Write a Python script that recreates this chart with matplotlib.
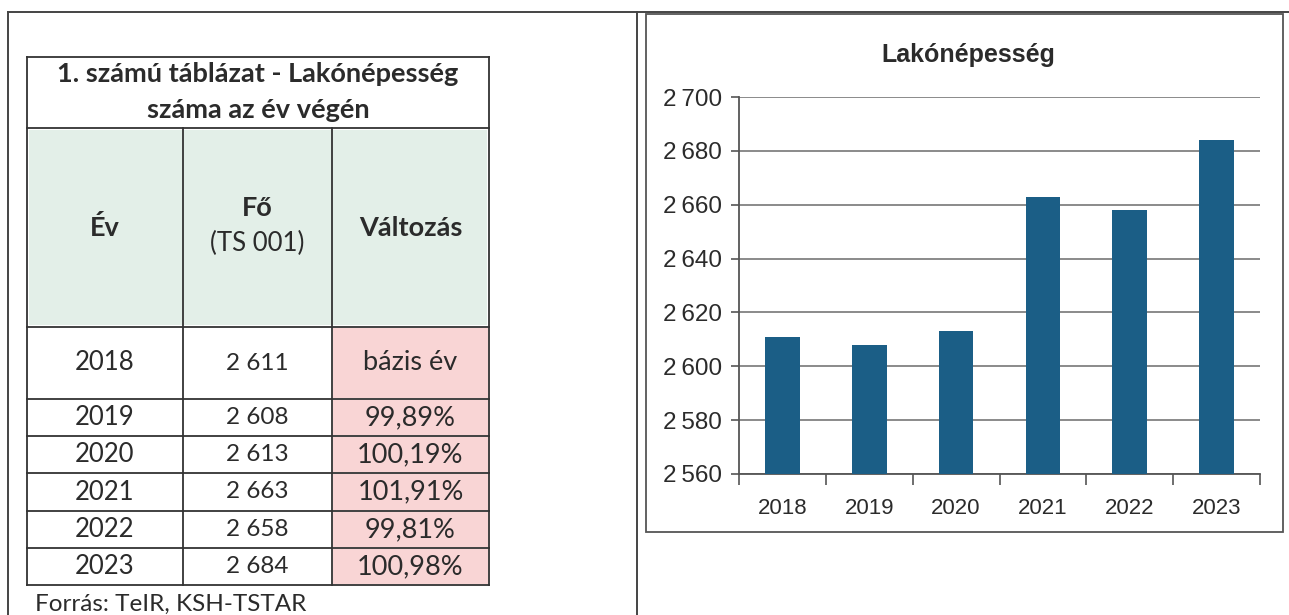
import matplotlib.pyplot as plt
import matplotlib.patches as mpatches
from matplotlib.ticker import FuncFormatter, MultipleLocator

years = ["2018", "2019", "2020", "2021", "2022", "2023"]
population = [2611, 2608, 2613, 2663, 2658, 2684]
population_labels = ["2 611", "2 608", "2 613", "2 663", "2 658", "2 684"]
change_labels = ["bázis év", "99,89%", "100,19%", "101,91%", "99,81%", "100,98%"]

table_title = ["1. számú táblázat - Lakónépesség", "száma az év végén"]
col_headers = ["Év", "Fő", "Változás"]
source_text = "Forrás: TeIR, KSH-TSTAR"
chart_title = "Lakónépesség"

W, H = 1289, 615
fig = plt.figure(figsize=(W / 100, H / 100), dpi=100)
fig.patch.set_facecolor("white")

tfont = ["Lato", "DejaVu Sans"]
cfont = ["Liberation Sans", "DejaVu Sans"]
ink = "#2b2b2b"

# page overlay in pixel coordinates
pg = fig.add_axes([0, 0, 1, 1])
pg.set_xlim(0, W)
pg.set_ylim(H, 0)
pg.axis("off")

# outer frame lines of the document layout
pg.plot([8, W], [12, 12], color="#444", lw=1.4)
pg.plot([8, 8], [12, H], color="#444", lw=1.4)
pg.plot([637, 637], [12, H], color="#444", lw=1.4)

# table grid
xs = [27, 183, 332, 489]
ys = [57, 128, 327, 399, 436, 473, 511, 548, 585]

# fills
pg.add_patch(mpatches.Rectangle((xs[0] + 2, ys[1] + 2), xs[3] - xs[0] - 4, ys[2] - ys[1] - 4,
                                facecolor="#e3efe8", edgecolor="none"))
for i in range(len(years)):
    pg.add_patch(mpatches.Rectangle((xs[2] + 1, ys[i + 2] + 1), xs[3] - xs[2] - 2, ys[i + 3] - ys[i + 2] - 2,
                                    facecolor="#f9d5d5", edgecolor="none"))

lc = "#333"
for y in ys:
    pg.plot([xs[0], xs[3]], [y, y], color=lc, lw=1.3)
pg.plot([xs[0], xs[0]], [ys[0], ys[-1]], color=lc, lw=1.3)
pg.plot([xs[3], xs[3]], [ys[0], ys[-1]], color=lc, lw=1.3)
for x in xs[1:3]:
    pg.plot([x, x], [ys[1], ys[-1]], color=lc, lw=1.3)

# table text
for line, base in zip(table_title, [82, 118]):
    pg.text((xs[0] + xs[3]) / 2, base, line, ha="center", va="baseline",
            fontsize=19.5, fontweight="bold", family=tfont, color=ink)
hy = (ys[1] + ys[2]) / 2
pg.text((xs[0] + xs[1]) / 2, hy, col_headers[0], ha="center", va="center",
        fontsize=19.5, fontweight="bold", family=tfont, color=ink)
pg.text((xs[1] + xs[2]) / 2, hy - 20, col_headers[1], ha="center", va="center",
        fontsize=19.5, fontweight="bold", family=tfont, color=ink)
pg.text((xs[1] + xs[2]) / 2, hy + 16, "(TS 001)", ha="center", va="center",
        fontsize=18.5, family=tfont, color=ink)
pg.text((xs[2] + xs[3]) / 2, hy, col_headers[2], ha="center", va="center",
        fontsize=19.5, fontweight="bold", family=tfont, color=ink)

for i, yr in enumerate(years):
    cy = (ys[i + 2] + ys[i + 3]) / 2
    pg.text((xs[0] + xs[1]) / 2, cy, yr, ha="center", va="center", fontsize=18.5, family=tfont, color=ink)
    pg.text((xs[1] + xs[2]) / 2, cy, population_labels[i], ha="center", va="center", fontsize=17.5,
            family=tfont, color=ink)
    pg.text((xs[2] + xs[3]) / 2, cy, change_labels[i], ha="center", va="center", fontsize=19.5,
            family=tfont, color=ink)

pg.text(35, 604, source_text, ha="left", va="center", fontsize=17.5, family=tfont, color=ink)

# chart box
pg.add_patch(mpatches.Rectangle((646, 14), 1283 - 646, 532 - 14, facecolor="none",
                                edgecolor="#555", lw=1.3))
pg.text(968, 55, chart_title, ha="center", va="center", fontsize=18, fontweight="bold",
        family=cfont, color=ink)

# bar chart
ax_l, ax_r, ax_t, ax_b = 739, 1260, 97, 474
ax = fig.add_axes([ax_l / W, 1 - ax_b / H, (ax_r - ax_l) / W, (ax_b - ax_t) / H])
ax.set_zorder(2)
ax.patch.set_alpha(0)
x = list(range(len(years)))
ax.bar(x, [p - 2560 for p in population], bottom=2560, width=0.4, color="#1b5e86", zorder=3)
ax.set_xlim(-0.5, len(years) - 0.5)
ax.set_ylim(2560, 2700)
ax.yaxis.set_major_locator(MultipleLocator(20))
ax.yaxis.set_major_formatter(FuncFormatter(lambda v, p: f"{int(v):,}".replace(",", "\u2009")))
ax.grid(axis="y", color="#8a8a8a", lw=1.4, zorder=1)
ax.set_xticks([i - 0.5 for i in range(len(years) + 1)])
ax.set_xticklabels([])
ax.set_xticks(x, minor=True)
ax.set_xticklabels(years, minor=True)
ax.tick_params(axis="x", which="major", length=8, width=1.2, color="#555", direction="out")
ax.tick_params(axis="x", which="minor", length=0, pad=17, labelsize=16, labelcolor=ink)
ax.tick_params(axis="y", length=6, width=1.2, color="#555", labelsize=17.5, labelcolor=ink, pad=6)
for lab in ax.get_xticklabels(minor=True) + ax.get_yticklabels():
    lab.set_family(cfont)
for s in ["top", "right"]:
    ax.spines[s].set_visible(False)
for s in ["left", "bottom"]:
    ax.spines[s].set_color("#555")
    ax.spines[s].set_linewidth(1.3)

fig.savefig("out.png", dpi=100)
